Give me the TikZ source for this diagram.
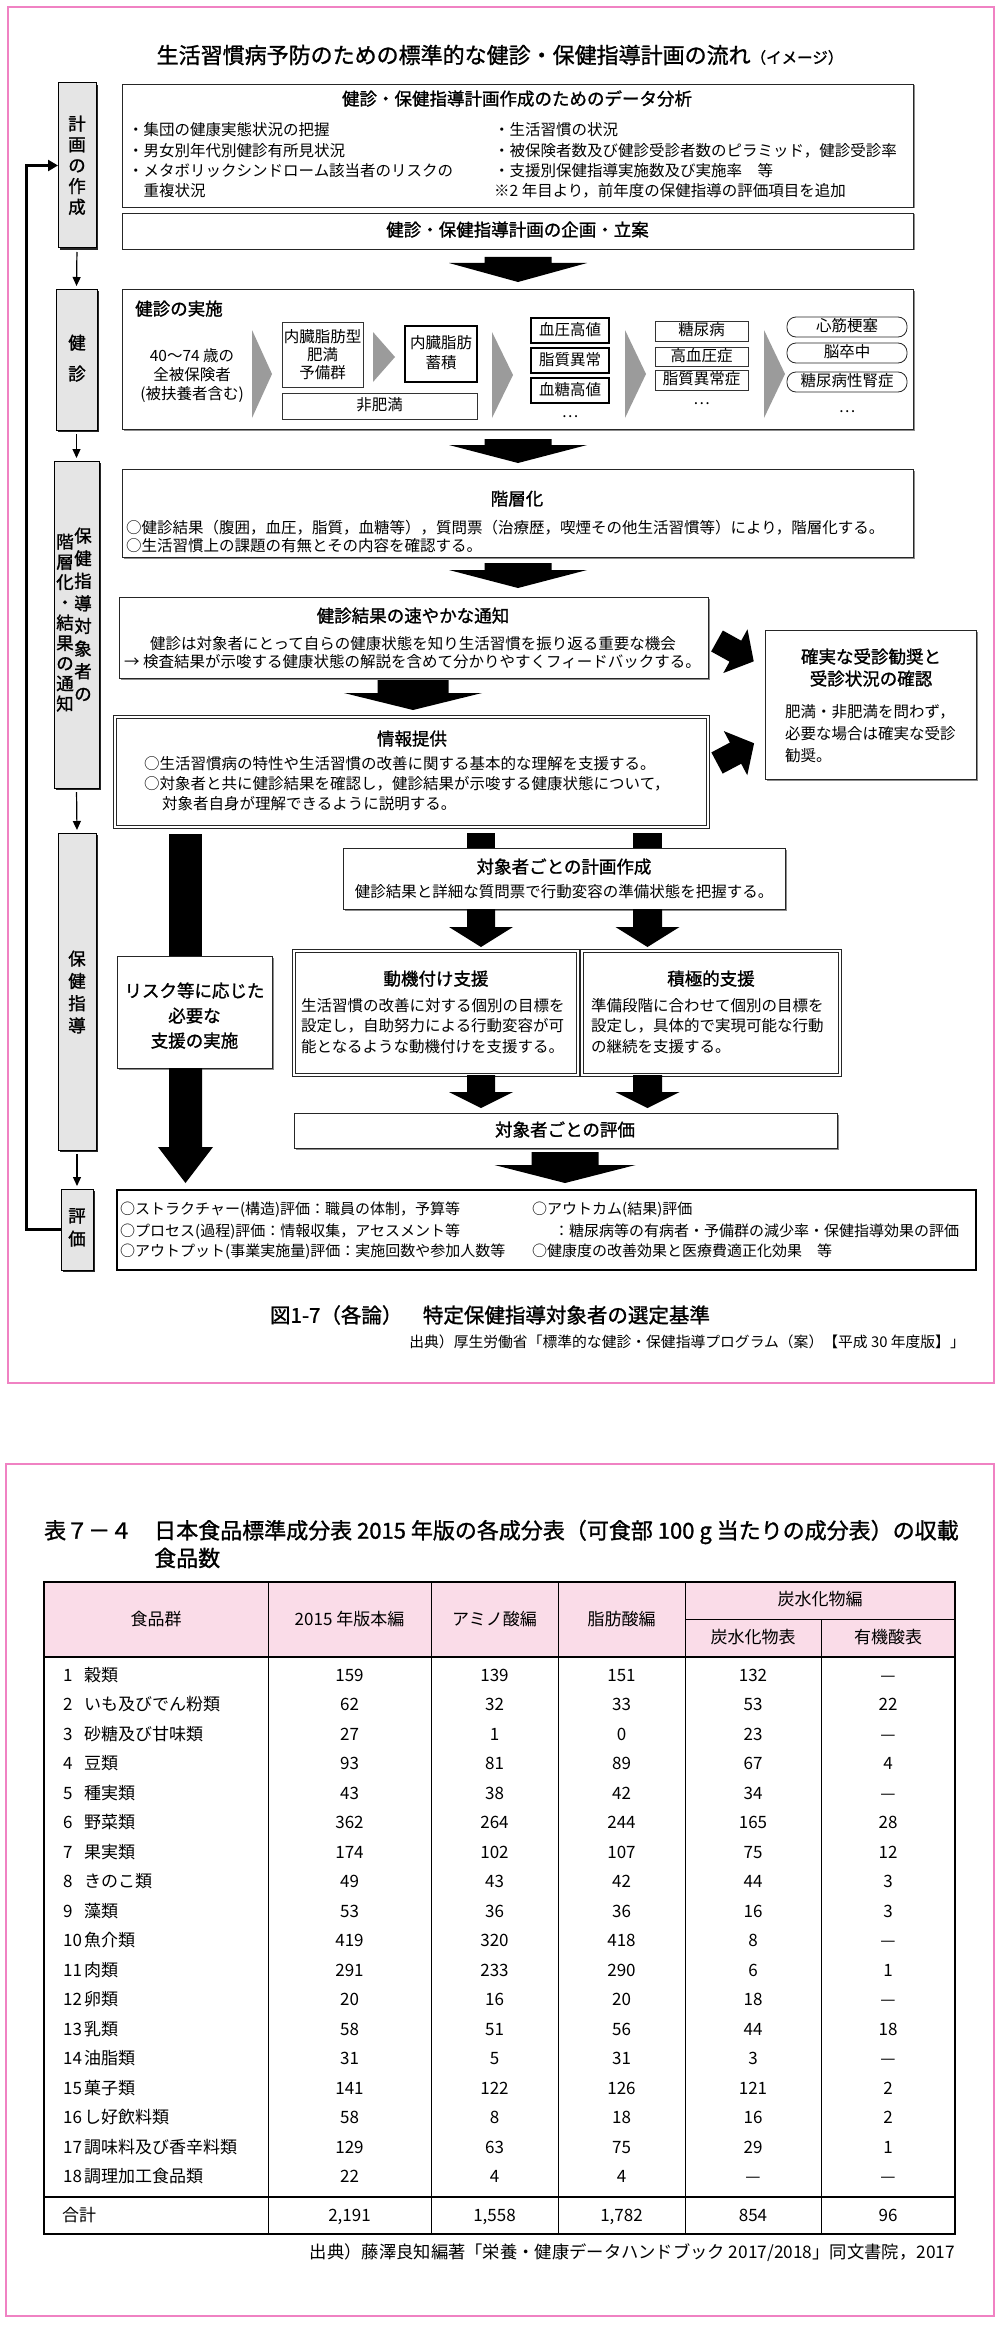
\documentclass[tikz,border=0pt]{standalone}
\usepackage{fontspec}
\setmainfont{Noto Sans CJK JP}
\newfontfamily\hfont{Noto Sans CJK JP}[FakeBold=1.2]
\usetikzlibrary{shadows,arrows.meta}
\definecolor{pinkframe}{RGB}{240,130,195}
\definecolor{pinkhead}{RGB}{250,220,232}
\definecolor{tri}{RGB}{155,155,155}
\newcommand\mkbox[6]{\pgfmathsetmacro\mkbw{#5-#3}\pgfmathsetmacro\mkbh{#6-#4}\node[#2,minimum width=\mkbw pt,minimum height=\mkbh pt,inner sep=0pt,outer sep=0pt] (#1) at ({(#3+#5)/2},{(#4+#6)/2}) {};}
\newcommand\blkdown[6]{\fill ({#1-#5/2},#2) -- ({#1+#5/2},#2) -- ({#1+#5/2},#3) -- ({#1+#6/2},#3) -- (#1,#4) -- ({#1-#6/2},#3) -- ({#1-#5/2},#3) -- cycle;}
\newcommand\gtri[4]{\fill[tri] (#1,#2) -- (#3,{(#2+#4)/2}) -- (#1,#4) -- cycle;}
\newcommand\tiltarrow[3]{\fill[shift={(#1,#2)},rotate=#3] (0,-12) -- (21,-12) -- (21,-25) -- (42,0) -- (21,25) -- (21,12) -- (0,12) -- cycle;}
\newcommand\vtxt[4]{\foreach \ch [count=\k from 0] in {#4} \node[head] at (#1,{#2+\k*#3}) {\ch};}
\begin{document}
\begin{tikzpicture}[x=1pt,y=-1pt,
  body/.style={font=\fontsize{15.5}{18}\selectfont,inner sep=0pt,text height=12.5pt,text depth=3pt},
  bodys/.style={font=\fontsize{15}{18}\selectfont,inner sep=0pt,text height=12pt,text depth=3pt},
  head/.style={font=\hfont\fontsize{17.5}{20}\selectfont,inner sep=0pt,text height=14pt,text depth=3.5pt},
  tb/.style={font=\fontsize{17}{20}\selectfont,inner sep=0pt,text height=13.5pt,text depth=3.5pt},
  sidebox/.style={draw=black,line width=1pt,fill=black!10,drop shadow={shadow xshift=2pt,shadow yshift=-2pt,fill=black,opacity=0.85}},
  mainbox/.style={draw=black!85,line width=0.8pt,fill=white,drop shadow={shadow xshift=1.5pt,shadow yshift=-1.5pt,fill=black!45,opacity=1}},
  dblbox/.style={draw=black!85,double,double distance=2.5pt,line width=0.6pt,fill=white,drop shadow={shadow xshift=1.5pt,shadow yshift=-1.5pt,fill=black!45,opacity=1}},
  thinbox/.style={draw=black!80,line width=0.7pt,fill=white},
  thickbox/.style={draw=black,line width=1.4pt,fill=white,drop shadow={shadow xshift=1pt,shadow yshift=-1pt,fill=black!50,opacity=1}},
  pill/.style={draw=black!85,line width=0.8pt,fill=white,rounded corners=9pt},
  thinarrow/.style={line width=1.2pt,-{Triangle[length=9pt,width=8pt]},shorten <=4pt,shorten >=3pt}]
\fill[white] (0,0) rectangle (1000,2325);
\useasboundingbox (0,0) rectangle (1000,2325);
% frames
\mkbox{frameA}{draw=pinkframe,line width=1.2pt}{8}{7}{994}{1383}
\mkbox{frameB}{draw=pinkframe,line width=1.2pt}{6}{1464}{994}{2316}
\node[font=\hfont\fontsize{22}{24}\selectfont,inner sep=0pt] (title) at (500,55) {生活習慣病予防のための標準的な健診・保健指導計画の流れ{\fontsize{15.5}{18}\selectfont（イメージ）}};
% side boxes
\mkbox{s1}{sidebox}{58}{83}{96}{248}
\mkbox{s2}{sidebox}{56}{289}{97}{430}
\mkbox{s3}{sidebox}{54}{461}{99}{788}
\mkbox{s4}{sidebox}{58}{833}{96}{1150}
\mkbox{s5}{sidebox}{61}{1189}{93}{1270}
\vtxt{77}{125}{20.8}{計,画,の,作,成}
\vtxt{77}{344}{31}{健,診}
\vtxt{83}{537}{22.6}{保,健,指,導,対,象,者,の}
\vtxt{65}{543}{20.25}{階,層,化,・,結,果,の,通,知}
\vtxt{77}{960}{22.3}{保,健,指,導}
\vtxt{77}{1217}{23}{評,価}
\draw[thinarrow] (s1.south) -- (s2.north);
\draw[thinarrow] (s2.south) -- (s3.north);
\draw[thinarrow] (s3.south) -- (s4.north);
\draw[thinarrow] (s4.south) -- (s5.north);
\coordinate (fbcorner) at (26,1229.5);
\draw[line width=3pt,-{Triangle[length=10pt,width=11pt]}] (s5.west) -- (fbcorner) |- (s1.west);
% data analysis
\mkbox{data}{mainbox}{122}{84}{913}{207}
\node[head] at (517,100) {健診・保健指導計画作成のためのデータ分析};
\node[body,anchor=west] at (128,131) {・集団の健康実態状況の把握};
\node[body,anchor=west] at (128,152) {・男女別年代別健診有所見状況};
\node[body,anchor=west] at (128,172) {・メタボリックシンドローム該当者のリスクの};
\node[body,anchor=west] at (128,192) {　重複状況};
\node[body,anchor=west] at (494,131) {・生活習慣の状況};
\node[body,anchor=west] at (494,152) {・被保険者数及び健診受診者数のピラミッド，健診受診率};
\node[body,anchor=west] at (494,172) {・支援別保健指導実施数及び実施率　等};
\node[body,anchor=west] at (494,192) {※2 年目より，前年度の保健指導の評価項目を追加};
\mkbox{plan}{mainbox}{122}{213}{913}{249}
\node[head] at (plan) {健診・保健指導計画の企画・立案};
\blkdown{518}{257}{263}{282}{67}{138}
% exam
\mkbox{exam}{mainbox}{122}{289}{913}{429}
\node[head,anchor=west] at (135,310) {健診の実施};
\node[body] at (192,357) {40〜74 歳の};
\node[body] at (192,376) {全被保険者};
\node[body] at (192,395) {(被扶養者含む)};
\gtri{252}{330}{272}{418}
\gtri{373}{332}{395}{382}
\gtri{492}{332}{513}{418}
\gtri{625}{330}{646}{418}
\gtri{764}{330}{785}{418}
\mkbox{pre}{thinbox}{282}{322}{363}{387}
\node[body] at (322.5,338) {内臓脂肪型};
\node[body] at (322.5,356) {肥満};
\node[body] at (322.5,374) {予備群};
\mkbox{visc}{thickbox}{405}{326}{477}{382}
\node[body] at (441,344) {内臓脂肪};
\node[body] at (441,364) {蓄積};
\mkbox{nonob}{thinbox}{282}{393}{477}{419}
\node[body] at (nonob) {非肥満};
\mkbox{bp}{thickbox}{531}{318}{609}{343}
\node[body] at (bp) {血圧高値};
\mkbox{lip}{thickbox}{531}{348}{609}{373}
\node[body] at (lip) {脂質異常};
\mkbox{glu}{thickbox}{531}{378}{609}{403}
\node[body] at (glu) {血糖高値};
\node[body] at (570,413) {…};
\mkbox{dm}{thinbox}{655}{321}{748}{341}
\node[body] at (dm) {糖尿病};
\mkbox{htn}{thinbox}{655}{347}{748}{366}
\node[body] at (htn) {高血圧症};
\mkbox{dl}{thinbox}{655}{370}{748}{390}
\node[body] at (dl) {脂質異常症};
\node[body] at (701.5,400) {…};
\mkbox{mi}{pill}{787}{317}{907}{337}
\node[body] at (mi) {心筋梗塞};
\mkbox{st}{pill}{787}{343}{907}{363}
\node[body] at (st) {脳卒中};
\mkbox{nep}{pill}{787}{372}{907}{392}
\node[body] at (nep) {糖尿病性腎症};
\node[body] at (847,408) {…};
\blkdown{518}{439}{445}{463}{67}{138}
% stratification
\mkbox{strat}{mainbox}{122}{469}{913}{557}
\node[head] at (517,500) {階層化};
\node[body,anchor=west] at (126,529) {○健診結果（腹囲，血圧，脂質，血糖等），質問票（治療歴，喫煙その他生活習慣等）により，階層化する。};
\node[body,anchor=west] at (126,547) {○生活習慣上の課題の有無とその内容を確認する。};
\blkdown{518}{563}{570}{588}{67}{138}
% notice
\mkbox{notice}{mainbox}{119}{597}{708}{678}
\node[head] at (413,617) {健診結果の速やかな通知};
\node[body] at (413,645) {健診は対象者にとって自らの健康状態を知り生活習慣を振り返る重要な機会};
\node[body,anchor=west] at (124,663) {→ 検査結果が示唆する健康状態の解説を含めて分かりやすくフィードバックする。};
\blkdown{413}{680}{693}{710}{71}{138}
% confirm
\mkbox{confirm}{mainbox}{765}{630}{976}{779}
\node[head] at (871,658) {確実な受診勧奨と};
\node[head] at (871,680) {受診状況の確認};
\node[body,anchor=west] at (785,713) {肥満・非肥満を問わず，};
\node[body,anchor=west] at (785,735) {必要な場合は確実な受診};
\node[body,anchor=west] at (785,757) {勧奨。};
\tiltarrow{717}{641}{-29}
\tiltarrow{717}{763}{28}
% info
\mkbox{info}{dblbox}{115}{717}{708}{827}
\node[head] at (412,740) {情報提供};
\node[body,anchor=west] at (144,765) {○生活習慣病の特性や生活習慣の改善に関する基本的な理解を支援する。};
\node[body,anchor=west] at (144,785) {○対象者と共に健診結果を確認し，健診結果が示唆する健康状態について，};
\node[body,anchor=west] at (162,805) {対象者自身が理解できるように説明する。};
% left bar and risk
\fill (169,834) rectangle (202,956);
\mkbox{risk}{mainbox}{117}{956}{272}{1068}
\node[head] at (194.5,992) {リスク等に応じた};
\node[head] at (194.5,1017) {必要な};
\node[head] at (194.5,1042) {支援の実施};
\blkdown{185.5}{1068}{1147}{1183}{33}{55}
% individual plan
\fill (467,833) rectangle (495,848);
\fill (633,833) rectangle (662,848);
\mkbox{indiv}{mainbox}{343}{848}{785}{909}
\node[head] at (564,868) {対象者ごとの計画作成};
\node[body] at (564,893) {健診結果と詳細な質問票で行動変容の準備状態を把握する。};
\blkdown{481}{909}{927}{947}{28}{64}
\blkdown{647.5}{909}{927}{947}{29}{64}
% support boxes
\mkbox{motiv}{dblbox}{294}{951}{578}{1075}
\node[head] at (436,980) {動機付け支援};
\node[body,anchor=west] at (301,1007) {生活習慣の改善に対する個別の目標を};
\node[body,anchor=west] at (301,1027) {設定し，自助努力による行動変容が可};
\node[body,anchor=west] at (301,1048) {能となるような動機付けを支援する。};
\mkbox{active}{dblbox}{582}{951}{840}{1075}
\node[head] at (711,980) {積極的支援};
\node[body,anchor=west] at (591,1007) {準備段階に合わせて個別の目標を};
\node[body,anchor=west] at (591,1027) {設定し，具体的で実現可能な行動};
\node[body,anchor=west] at (591,1048) {の継続を支援する。};
\blkdown{481}{1075}{1092}{1108}{28}{64}
\blkdown{647.5}{1075}{1092}{1108}{29}{64}
\mkbox{evalp}{mainbox}{294}{1113}{837}{1148}
\node[head] at (565,1131) {対象者ごとの評価};
\blkdown{565}{1152}{1165}{1183}{67}{141}
% evaluation
\mkbox{evalm}{draw=black,line width=1.6pt,fill=white}{117}{1190}{976}{1270}
\node[bodys,anchor=west] at (120,1210) {○ストラクチャー(構造)評価：職員の体制，予算等};
\node[bodys,anchor=west] at (120,1232) {○プロセス(過程)評価：情報収集，アセスメント等};
\node[bodys,anchor=west] at (120,1252) {○アウトプット(事業実施量)評価：実施回数や参加人数等};
\node[bodys,anchor=west] at (532,1210) {○アウトカム(結果)評価};
\node[bodys,anchor=west] at (554,1232) {：糖尿病等の有病者・予備群の減少率・保健指導効果の評価};
\node[bodys,anchor=west] at (532,1252) {○健康度の改善効果と医療費適正化効果　等};
% caption
\node[font=\hfont\fontsize{20.5}{23}\selectfont,inner sep=0pt] (cap) at (490,1315) {図1-7（各論）　特定保健指導対象者の選定基準};
\node[font=\fontsize{14.8}{18}\selectfont,inner sep=0pt,anchor=east] (src1) at (965,1342) {出典）厚生労働省「標準的な健診・保健指導プログラム（案）【平成 30 年度版】」};
% ===== table =====
\node[font=\hfont\fontsize{22}{24}\selectfont,inner sep=0pt,anchor=west] (ttl1) at (44,1532) {表７－４　日本食品標準成分表 2015 年版の各成分表（可食部 100 g 当たりの成分表）の収載};
\node[font=\hfont\fontsize{22}{24}\selectfont,inner sep=0pt,anchor=west] (ttl2) at (154,1558) {食品数};
\fill[pinkhead] (44,1582) rectangle (955,1657);
\foreach \xx in {268,431,558,685} \draw[line width=0.7pt] (\xx,1582) -- (\xx,2234);
\draw[line width=0.7pt] (821,1619) -- (821,2234);
\draw[line width=0.7pt] (685,1619) -- (955,1619);
\draw[line width=1.1pt] (44,1657) -- (955,1657);
\draw[line width=1.5pt] (44,2197) -- (955,2197);
\draw[line width=1.5pt] (44,1582) rectangle (955,2234);
\node[tb] at (156,1620) {食品群};
\node[tb] at (349.5,1620) {2015 年版本編};
\node[tb] at (494.5,1620) {アミノ酸編};
\node[tb] at (621.5,1620) {脂肪酸編};
\node[tb] at (820,1600) {炭水化物編};
\node[tb] at (753,1638) {炭水化物表};
\node[tb] at (888,1638) {有機酸表};
\foreach \n/\nm/\a/\b/\c/\d/\e [count=\i from 0] in {
 1/穀類/159/139/151/132/—,
 2/いも及びでん粉類/62/32/33/53/22,
 3/砂糖及び甘味類/27/1/0/23/—,
 4/豆類/93/81/89/67/4,
 5/種実類/43/38/42/34/—,
 6/野菜類/362/264/244/165/28,
 7/果実類/174/102/107/75/12,
 8/きのこ類/49/43/42/44/3,
 9/藻類/53/36/36/16/3,
 10/魚介類/419/320/418/8/—,
 11/肉類/291/233/290/6/1,
 12/卵類/20/16/20/18/—,
 13/乳類/58/51/56/44/18,
 14/油脂類/31/5/31/3/—,
 15/菓子類/141/122/126/121/2,
 16/し好飲料類/58/8/18/16/2,
 17/調味料及び香辛料類/129/63/75/29/1,
 18/調理加工食品類/22/4/4/—/—}{
 \pgfmathsetmacro\ry{1676+\i*29.5}
 \node[tb,anchor=west] at (63,\ry) {\n};
 \node[tb,anchor=west] at (84,\ry) {\nm};
 \node[tb] at (349.5,\ry) {\a};
 \node[tb] at (494.5,\ry) {\b};
 \node[tb] at (621.5,\ry) {\c};
 \node[tb] at (753,\ry) {\d};
 \node[tb] at (888,\ry) {\e};
}
\node[tb,anchor=west] at (62,2216) {合計};
\node[tb] at (349.5,2216) {2,191};
\node[tb] at (494.5,2216) {1,558};
\node[tb] at (621.5,2216) {1,782};
\node[tb] at (753,2216) {854};
\node[tb] at (888,2216) {96};
\node[font=\fontsize{17.3}{20}\selectfont,inner sep=0pt,anchor=east] (src2) at (955,2253) {出典）藤澤良知編著「栄養・健康データハンドブック 2017/2018」同文書院，2017};
\end{tikzpicture}
\end{document}
